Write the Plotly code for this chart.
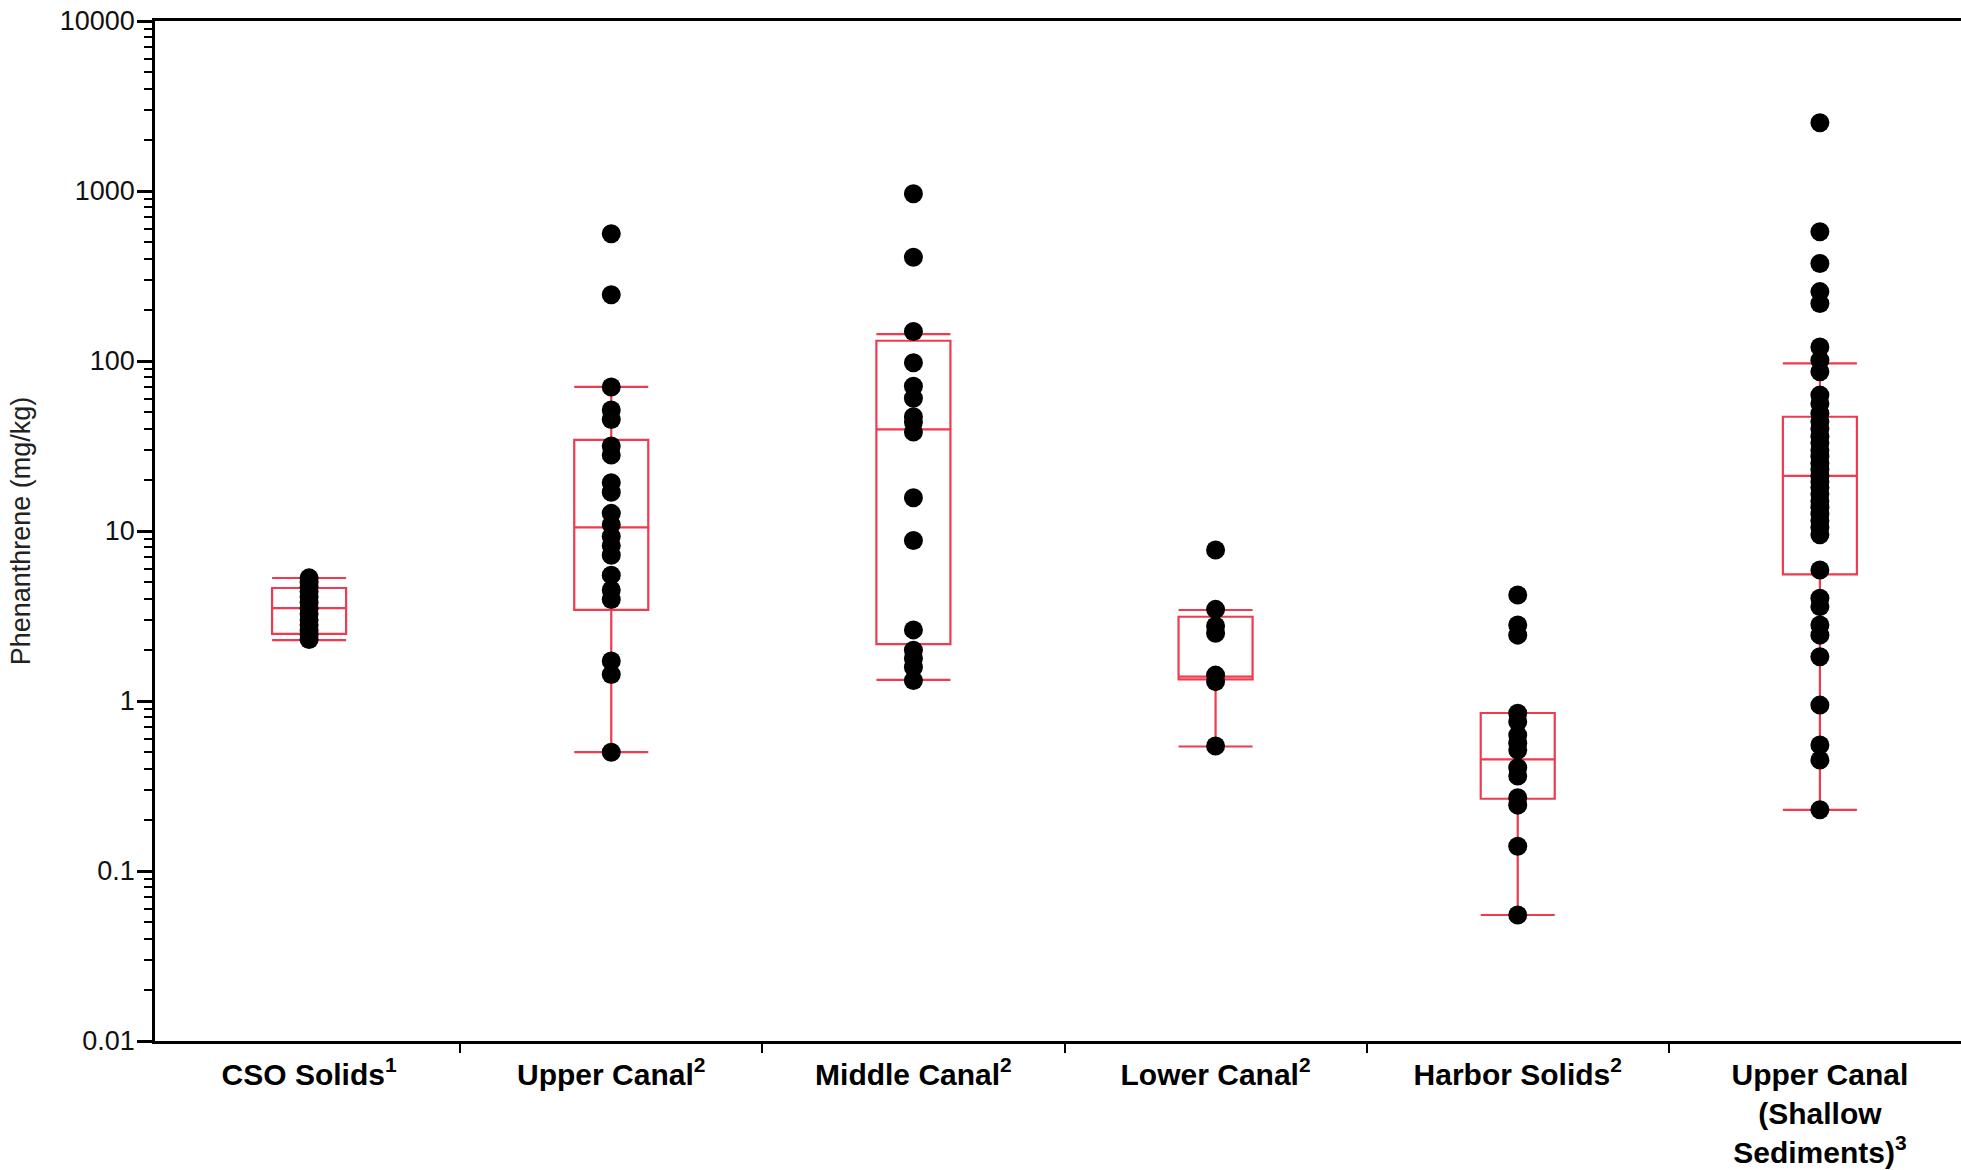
import plotly.graph_objects as go

# ---- data ----
categories = [
    "CSO Solids<sup>1</sup>",
    "Upper Canal<sup>2</sup>",
    "Middle Canal<sup>2</sup>",
    "Lower Canal<sup>2</sup>",
    "Harbor Solids<sup>2</sup>",
    "Upper Canal<br>(Shallow<br>Sediments)<sup>3</sup>",
]

cso_solids = [5.3, 5.0, 4.7, 4.4, 4.1, 3.8, 3.5, 3.25, 3.0, 2.8, 2.6, 2.45, 2.3]
upper_canal = [561, 245, 70.4, 51.5, 45.3, 31.6, 28.0, 19.2, 16.9, 12.7, 10.9,
               9.3, 8.2, 7.2, 5.5, 4.5, 3.95, 1.72, 1.43, 0.5]
middle_canal = [964, 408, 149, 97.7, 71, 60.4, 47, 43.8, 38.2, 15.7, 8.8,
                2.62, 1.99, 1.78, 1.58, 1.32]
lower_canal = [7.73, 3.46, 2.76, 2.50, 1.42, 1.30, 0.543]
harbor_solids = [4.2, 2.80, 2.44, 0.847, 0.755, 0.63, 0.564, 0.515, 0.405,
                 0.362, 0.27, 0.244, 0.140, 0.0551]
upper_shallow = [2520, 576, 375, 256, 218, 121, 101, 86.5, 63, 56, 49.2, 44,
                 40, 36, 33, 30, 27.5, 25, 23, 21, 19.5, 18, 16.5, 15, 13.8,
                 12.6, 11.5, 10.5, 9.5, 5.9, 4.02, 3.59, 2.8, 2.44, 1.82,
                 0.946, 0.551, 0.45, 0.229]

series = [cso_solids, upper_canal, middle_canal, lower_canal, harbor_solids, upper_shallow]

box_q1 = [2.48, 3.44, 2.16, 1.34, 0.266, 5.56]
box_median = [3.52, 10.5, 39.6, 1.39, 0.454, 21.1]
box_q3 = [4.62, 34.4, 131.6, 3.13, 0.85, 47]
box_lowerfence = [2.28, 0.5, 1.33, 0.54, 0.0551, 0.229]
box_upperfence = [5.29, 70.4, 144, 3.43, 0.85, 96.9]

ytick_vals = [0.01, 0.1, 1, 10, 100, 1000, 10000]
ytick_text = ["0.01", "0.1", "1", "10", "100", "1000", "10000"]
y_minor_vals = [m * 10 ** e for e in range(-2, 4) for m in range(2, 10)]
boundary_ticks = [0.5, 1.5, 2.5, 3.5, 4.5]

RED = "#ef3a50"
FONT = "Liberation Sans, Arial, sans-serif"

fig = go.Figure()

for cat, vals in zip(categories, series):
    fig.add_trace(go.Scatter(
        x=[cat] * len(vals), y=vals, mode="markers",
        marker=dict(color="black", size=19, line=dict(width=0)),
        showlegend=False, hoverinfo="y",
    ))

fig.add_trace(go.Box(
    x=categories, q1=box_q1, median=box_median, q3=box_q3,
    lowerfence=box_lowerfence, upperfence=box_upperfence,
    width=0.245, whiskerwidth=1,
    line=dict(color=RED, width=2.2), fillcolor="rgba(0,0,0,0)",
    boxpoints=False, showlegend=False,
))

# invisible helper on the tick-only axis so it is rendered
fig.add_trace(go.Scatter(
    x=[0, 5], y=[box_median[0], box_median[5]], xaxis="x2", mode="markers",
    marker=dict(opacity=0), showlegend=False, hoverinfo="skip",
))

XRANGE = [-0.51, 5.467]

fig.update_layout(
    width=1961, height=1170,
    margin=dict(l=155, r=0, t=21, b=129, autoexpand=False),
    paper_bgcolor="white", plot_bgcolor="white",
    font=dict(family=FONT, color="#111"),
    xaxis=dict(
        type="category", categoryorder="array", categoryarray=categories,
        range=XRANGE, showline=True, linecolor="black", linewidth=2.5,
        mirror=True, ticks="", showgrid=False, zeroline=False,
        tickfont=dict(family=FONT, size=30, color="black", weight="bold"),
        ticklabelstandoff=5, automargin=False,
    ),
    xaxis2=dict(
        overlaying="x", anchor="y", side="bottom", range=XRANGE,
        tickmode="array", tickvals=boundary_ticks, showticklabels=False,
        ticks="outside", ticklen=11, tickwidth=2, tickcolor="black",
        showline=False, showgrid=False, zeroline=False, automargin=False,
    ),
    yaxis=dict(
        type="log", range=[-2, 4],
        tickmode="array", tickvals=ytick_vals, ticktext=ytick_text,
        ticks="outside", ticklen=15, tickwidth=2.5, tickcolor="black",
        minor=dict(tickmode="array", tickvals=y_minor_vals, ticks="outside",
                   ticklen=8, tickwidth=2, tickcolor="black", showgrid=False),
        showline=True, linecolor="black", linewidth=2.5, mirror=False,
        showgrid=False, zeroline=False, automargin=False,
        tickfont=dict(family=FONT, size=27, color="#111"),
        ticklabelstandoff=-3,
        title=dict(text="Phenanthrene (mg/kg)", standoff=22,
                   font=dict(family=FONT, size=27, color="#222")),
    ),
    annotations=[dict(
        text="<b>Notes:</b>", xref="paper", yref="paper",
        x=-0.085, y=-0.127, xanchor="left", yanchor="top",
        showarrow=False, font=dict(family=FONT, size=26, color="black"),
    )],
)

fig.write_html("out.html", config=dict(displayModeBar=False))
